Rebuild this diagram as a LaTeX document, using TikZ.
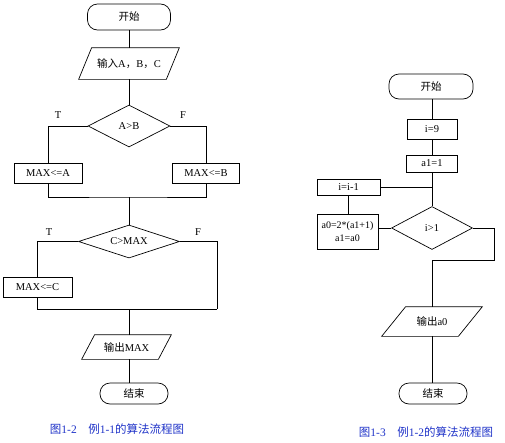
\documentclass[tikz,border=0pt]{standalone}
\usepackage{fontspec}
\setmainfont{Liberation Serif}
\newfontfamily\cjk{Noto Sans CJK SC}
\usetikzlibrary{shapes.geometric}
\definecolor{capblue}{RGB}{30,50,200}
\newcommand\drawpara[2]{\draw (#1.south west) -- ([xshift=-#2]#1.south east) -- (#1.north east) -- ([xshift=#2]#1.north west) -- cycle;}
\begin{document}
\begin{tikzpicture}[x=1pt,y=-1pt,line width=0.7pt,
  every node/.style={font=\fontsize{10.5}{12.5}\selectfont,inner sep=0pt},
  term/.style={draw,rounded corners=10pt},
  box/.style={draw},
  io/.style={},
  dia/.style={draw,diamond,aspect=2},
  lbl/.style={},
  captext/.style={text=capblue,font=\fontsize{11.5}{13}\selectfont}]
\useasboundingbox (0,0) rectangle (505,442);
% ---- left chart ----
\node[term,minimum width=83pt,minimum height=26pt] (s1) at (129,17) {\cjk 开始};
\node[io,minimum width=100pt,minimum height=31pt] (in1) at (129,63.5) {{\cjk 输入}A{\cjk ，}B{\cjk ，}C};
\drawpara{in1}{13pt}
\node[dia,minimum width=82pt,minimum height=42pt] (d1) at (129,126) {A>B};
\node[lbl] (t1) at (58,115) {T};
\node[lbl] (f1) at (183,115) {F};
\node[box,minimum width=68pt,minimum height=20pt] (b1) at (48,173) {MAX<=A};
\node[box,minimum width=67pt,minimum height=20pt] (b2) at (206,173) {MAX<=B};
\coordinate (j1) at (129,197);
\node[dia,minimum width=101pt,minimum height=33pt] (d2) at (129,241.5) {C>MAX};
\node[lbl] (t2) at (49,232) {T};
\node[lbl] (f2) at (198,232) {F};
\node[box,minimum width=69pt,minimum height=20pt] (b3) at (37.5,287) {MAX<=C};
\coordinate (r2) at (217,309);
\coordinate (j2) at (129,309);
\node[io,minimum width=89pt,minimum height=24pt] (o1) at (126.5,347) {{\cjk 输出}MAX};
\drawpara{o1}{13pt}
\node[term,minimum width=68pt,minimum height=21pt] (e1) at (134,393.5) {\cjk 结束};
\node[captext] (c1) at (117,429) {{\cjk 图}1-2\quad{\cjk 例}1-1{\cjk 的算法流程图}};
\draw (s1.south) -- (in1.north);
\draw (in1.south) -- (d1.north);
\draw (d1.west) -| (b1.north);
\draw (d1.east) -| (b2.north);
\draw (b1.south) |- (j1) -| (b2.south);
\draw (j1) -- (d2.north);
\draw (d2.west) -| (b3.north);
\draw (d2.east) -| (r2);
\draw (b3.south) |- (r2);
\draw (j2) -- (j2 |- o1.north);
\draw (j2 |- o1.south) -- (j2 |- e1.north);
% ---- right chart ----
\node[term,minimum width=84pt,minimum height=25pt] (s2) at (431,86.5) {\cjk 开始};
\node[box,minimum width=50pt,minimum height=20pt] (n1) at (432,129) {i=9};
\node[box,minimum width=51pt,minimum height=17pt] (n2) at (432,163.5) {a1=1};
\node[box,minimum width=63pt,minimum height=16pt] (n3) at (348.5,187.5) {i=i-1};
\node[dia,minimum width=81pt,minimum height=43pt] (d3) at (432,228) {i>1};
\node[box,minimum width=61pt,minimum height=35pt,align=center,font=\fontsize{10}{11.5}\selectfont] (n4) at (347.5,231.5) {a0=2*(a1+1)\\[1pt]a1=a0};
\coordinate (r3) at (494,260);
\node[io,minimum width=100pt,minimum height=29pt] (o2) at (432,321.5) {{\cjk 输出}a0};
\drawpara{o2}{24pt}
\node[term,minimum width=68pt,minimum height=21pt] (e2) at (433,393.5) {\cjk 结束};
\node[captext] (c2) at (426,432) {{\cjk 图}1-3\quad{\cjk 例}1-2{\cjk 的算法流程图}};
\draw (s2.south -| n1.north) -- (n1.north);
\draw (n1.south) -- (n2.north);
\draw (n2.south) -- (d3.north);
\draw (n3.east) -- (n3.east -| n2.south);
\draw (n3.south) -- (n3.south |- n4.north);
\draw (d3.west) -- (d3.west -| n4.east);
\draw (d3.east) -| (r3) -| (o2.north);
\draw (o2.south) -- (o2.south |- e2.north);
\end{tikzpicture}
\end{document}
